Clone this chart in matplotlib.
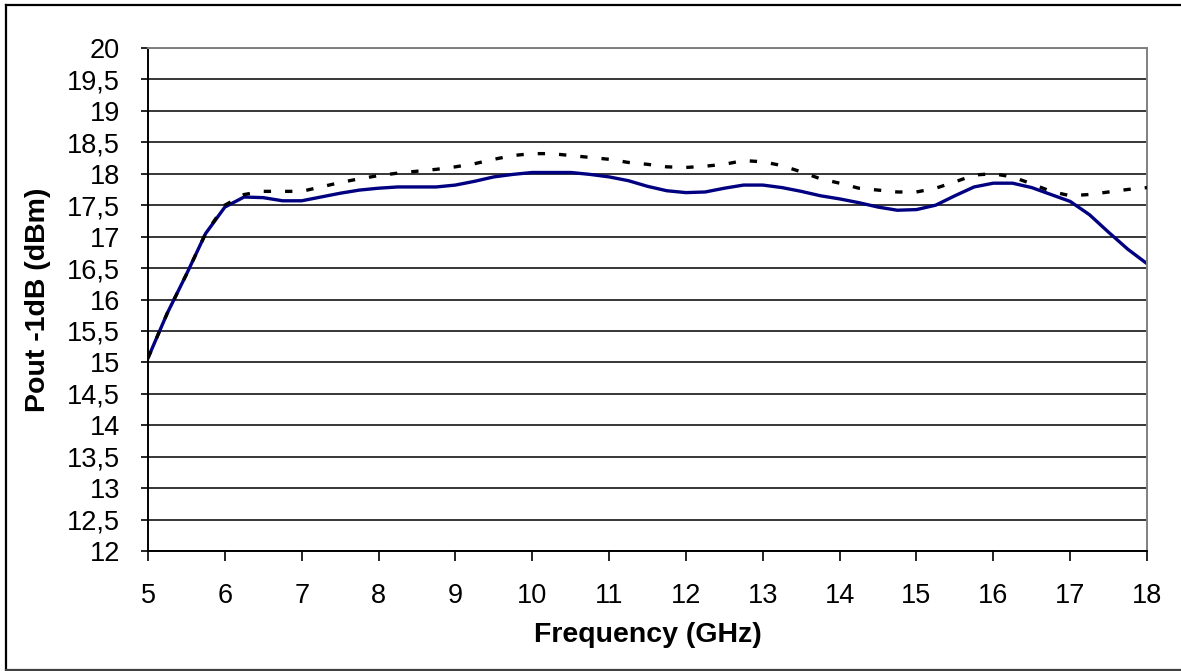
import matplotlib.pyplot as plt
from matplotlib.lines import Line2D

plt.rcParams['font.family'] = ['Liberation Sans', 'DejaVu Sans']

# frequence (GHz), pas de 0.25
freq = [5.0, 5.25, 5.5, 5.75, 6.0, 6.25, 6.5, 6.75, 7.0, 7.25, 7.5, 7.75,
        8.0, 8.25, 8.5, 8.75, 9.0, 9.25, 9.5, 9.75, 10.0, 10.25, 10.5, 10.75,
        11.0, 11.25, 11.5, 11.75, 12.0, 12.25, 12.5, 12.75, 13.0, 13.25, 13.5,
        13.75, 14.0, 14.25, 14.5, 14.75, 15.0, 15.25, 15.5, 15.75, 16.0, 16.25,
        16.5, 16.75, 17.0, 17.25, 17.5, 17.75, 18.0]

# courbe bleue (mesure)
p1db_meas = [15.07, 15.78, 16.4, 17.05, 17.47, 17.63, 17.62, 17.57, 17.57, 17.63,
             17.69, 17.74, 17.77, 17.79, 17.79, 17.79, 17.82, 17.88, 17.95, 17.99,
             18.02, 18.02, 18.02, 17.99, 17.95, 17.89, 17.8, 17.73, 17.7, 17.71,
             17.77, 17.82, 17.82, 17.78, 17.72, 17.65, 17.6, 17.54, 17.47, 17.42,
             17.43, 17.5, 17.65, 17.79, 17.85, 17.85, 17.78, 17.67, 17.56, 17.35,
             17.07, 16.8, 16.57]

# courbe pointillee noire (simulation)
p1db_sim = [15.07, 15.78, 16.4, 17.05, 17.5, 17.67, 17.72, 17.72, 17.72, 17.79,
            17.86, 17.92, 17.97, 18.01, 18.04, 18.07, 18.11, 18.16, 18.23, 18.29,
            18.32, 18.32, 18.29, 18.26, 18.23, 18.18, 18.15, 18.11, 18.1, 18.12,
            18.15, 18.21, 18.19, 18.13, 18.03, 17.92, 17.85, 17.77, 17.74, 17.71,
            17.71, 17.77, 17.87, 17.98, 18.0, 17.95, 17.84, 17.72, 17.65, 17.67,
            17.71, 17.75, 17.78]

y_ticks = [12 + 0.5 * i for i in range(17)]
y_labels = [f"{v:g}".replace('.', ',') for v in y_ticks]
x_ticks = list(range(5, 19))

fig = plt.figure(figsize=(11.81, 6.71), dpi=100)
ax = fig.add_axes([148 / 1181, 1 - 551 / 671, 999 / 1181, 503 / 671])

for v in y_ticks:
    ax.axhline(v, color='black', lw=1.1, zorder=1)

ax.plot(freq, p1db_sim, color='black', lw=2.4, dashes=(2.2, 4.2), zorder=3)
ax.plot(freq, p1db_meas, color='#000080', lw=2.4, zorder=2)

ax.set_xlim(5, 18)
ax.set_ylim(12, 20)
ax.set_xticks(x_ticks)
ax.set_yticks(y_ticks)
ax.set_yticklabels(y_labels)
ax.tick_params(axis='both', labelsize=19.5, color='black')
ax.tick_params(axis='y', length=5, width=1.2, pad=15)
ax.tick_params(axis='x', length=7, width=1.2, pad=16)

ax.spines['left'].set_color('black')
ax.spines['left'].set_linewidth(1.4)
ax.spines['bottom'].set_color('black')
ax.spines['bottom'].set_linewidth(1.4)
ax.spines['top'].set_color('#808080')
ax.spines['top'].set_linewidth(1.4)
ax.spines['right'].set_color('#808080')
ax.spines['right'].set_linewidth(1.4)

ax.set_xlabel('Frequency (GHz)', fontsize=20.5, fontweight='bold')
ax.set_ylabel('Pout -1dB (dBm)', fontsize=20.5, fontweight='bold')
ax.xaxis.set_label_coords(0.5, -0.141)
ax.yaxis.set_label_coords(-0.097, 0.5)

# cadre exterieur de la figure
W, H = 1181, 671
fig.add_artist(Line2D([6 / W, 6 / W], [0, 1 - 5 / H], transform=fig.transFigure, color='black', lw=1.6))
fig.add_artist(Line2D([6 / W, 1], [1 - 5 / H, 1 - 5 / H], transform=fig.transFigure, color='black', lw=1.6))
fig.add_artist(Line2D([6 / W, 1], [1.5 / H, 1.5 / H], transform=fig.transFigure, color='#404040', lw=1.6))

fig.savefig('out.png', dpi=100)
